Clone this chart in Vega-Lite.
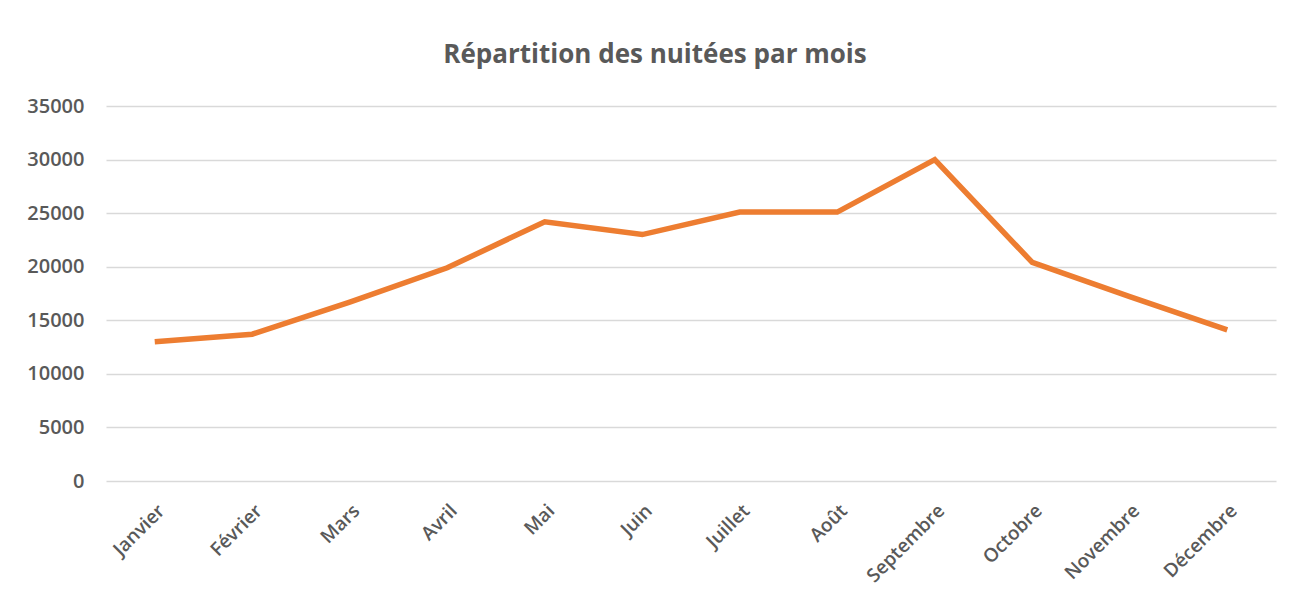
{
  "$schema": "https://vega.github.io/schema/vega-lite/v6.json",
  "autosize": "none",
  "width": 1170,
  "height": 375,
  "padding": {"left": 106, "top": 106, "right": 20, "bottom": 127},
  "background": "white",
  "title": {
    "text": "Répartition des nuitées par mois",
    "font": "Open Sans",
    "fontSize": 26,
    "fontWeight": "bold",
    "color": "#595959",
    "anchor": "middle",
    "dx": -36,
    "offset": 28
  },
  "data": {
    "values": [
      {"mois": "Janvier", "nuitees": 13000},
      {"mois": "Février", "nuitees": 13700},
      {"mois": "Mars", "nuitees": 16700},
      {"mois": "Avril", "nuitees": 19900},
      {"mois": "Mai", "nuitees": 24200},
      {"mois": "Juin", "nuitees": 23000},
      {"mois": "Juillet", "nuitees": 25100},
      {"mois": "Août", "nuitees": 25100},
      {"mois": "Septembre", "nuitees": 30000},
      {"mois": "Octobre", "nuitees": 20400},
      {"mois": "Novembre", "nuitees": 17200},
      {"mois": "Décembre", "nuitees": 14100}
    ]
  },
  "mark": {"type": "line", "color": "#ED7D31", "strokeWidth": 5.5, "strokeJoin": "miter", "strokeCap": "butt"},
  "encoding": {
    "x": {
      "field": "mois",
      "type": "ordinal",
      "sort": null,
      "scale": {"type": "point", "padding": 0.5},
      "axis": {
        "title": null,
        "labelAngle": -45,
        "labelAlign": "right",
        "labelBaseline": "top",
        "labelPadding": 20,
        "labelFont": "Open Sans",
        "labelFontSize": 19,
        "labelFontWeight": 600,
        "labelColor": "#595959",
        "ticks": false,
        "domain": false,
        "grid": false
      }
    },
    "y": {
      "field": "nuitees",
      "type": "quantitative",
      "scale": {"domain": [0, 35000], "nice": false},
      "axis": {
        "title": null,
        "values": [0, 5000, 10000, 15000, 20000, 25000, 30000, 35000],
        "format": "d",
        "labelPadding": 22,
        "labelFont": "Open Sans",
        "labelFontSize": 20,
        "labelFontWeight": 600,
        "labelColor": "#595959",
        "ticks": false,
        "domain": false,
        "grid": true,
        "gridColor": "#d9d9d9",
        "gridWidth": 1.5
      }
    }
  },
  "config": {"view": {"stroke": null}}
}
